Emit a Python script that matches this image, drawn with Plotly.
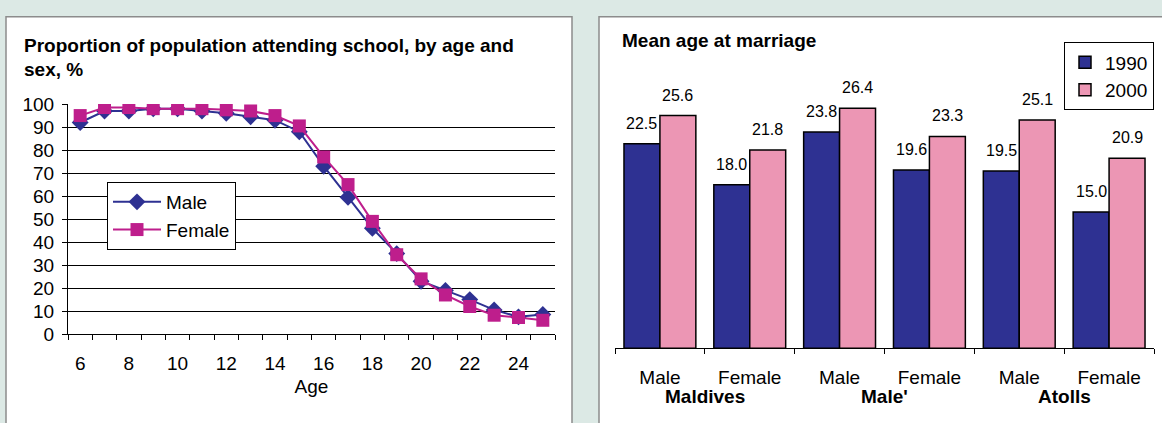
import plotly.graph_objects as go

# left chart: school attendance
ages = list(range(6, 26))
male_pct = [92, 97, 97, 98, 98, 97, 96, 94.5, 93, 88, 73, 59.5, 46, 35, 23, 19, 15, 10.5, 7.5, 8.5]
female_pct = [95, 98.5, 98.5, 98, 98, 98, 97.5, 97, 95, 90.5, 77, 65, 49, 34.5, 24, 17, 12, 8.2, 7.2, 6]
age_ticks = list(range(6, 25, 2))

# right chart: mean age at marriage
groups = ["Maldives", "Male'", "Atolls"]
sexes = ["Male", "Female", "Male", "Female", "Male", "Female"]
age_1990 = [22.5, 18.0, 23.8, 19.6, 19.5, 15.0]
age_2000 = [25.6, 21.8, 26.4, 23.3, 25.1, 20.9]
years = ["1990", "2000"]

W, H = 1162, 423
FONT = "Arial, Liberation Sans, sans-serif"
NAVY = "#2e3192"
MAGENTA = "#be1e8c"
PINK = "#ec96b4"
BG = "#dce9e5"


def px_x(p):
    return p / W


def px_y(p):
    return 1 - p / H


fig = go.Figure()

fig.add_trace(go.Scatter(
    x=ages, y=male_pct, name="Male", mode="lines+markers",
    line=dict(color=NAVY, width=2), marker=dict(symbol="diamond", size=13, color=NAVY),
    xaxis="x", yaxis="y", legend="legend",
))
fig.add_trace(go.Scatter(
    x=ages, y=female_pct, name="Female", mode="lines+markers",
    line=dict(color=MAGENTA, width=2), marker=dict(symbol="square", size=13, color=MAGENTA),
    xaxis="x", yaxis="y", legend="legend",
))

idx = list(range(len(sexes)))
for vals, color, yr in [(age_1990, NAVY, years[0]), (age_2000, PINK, years[1])]:
    fig.add_trace(go.Bar(
        x=idx, y=vals, name=yr, marker=dict(color=color, line=dict(color="black", width=1.5)),
        xaxis="x2", yaxis="y2", legend="legend2",
    ))

annotations = []
# value labels above the bars
bar_half = 0.2
for vals, sign in [(age_1990, -1), (age_2000, 1)]:
    for i, v in enumerate(vals):
        annotations.append(dict(
            xref="x2", yref="y2", x=i + sign * bar_half, y=v, yanchor="bottom", yshift=10,
            text="{:.1f}".format(v), showarrow=False, font=dict(family=FONT, size=16, color="black"),
        ))
# group labels
for g, name in enumerate(groups):
    annotations.append(dict(
        xref="x2", yref="paper", x=2 * g + 0.5, y=px_y(407), yanchor="middle",
        text="<b>" + name + "</b>", showarrow=False, font=dict(family=FONT, size=19, color="black"),
    ))
# titles
annotations += [
    dict(xref="paper", yref="paper", x=px_x(22), y=px_y(37), xanchor="left", yanchor="middle",
         text="<b>Proportion of population attending school, by age and</b>", showarrow=False,
         font=dict(family=FONT, size=19, color="black")),
    dict(xref="paper", yref="paper", x=px_x(22), y=px_y(63), xanchor="left", yanchor="middle",
         text="<b>sex, %</b>", showarrow=False, font=dict(family=FONT, size=19, color="black")),
    dict(xref="paper", yref="paper", x=px_x(620), y=px_y(32), xanchor="left", yanchor="middle",
         text="<b>Mean age at marriage</b>", showarrow=False, font=dict(family=FONT, size=19, color="black")),
]

shapes = [
    dict(type="rect", xref="paper", yref="paper", x0=px_x(6), x1=px_x(572), y0=-0.2, y1=px_y(7),
         fillcolor="white", line=dict(color="#8c8c8c", width=1.5), layer="below"),
    dict(type="rect", xref="paper", yref="paper", x0=px_x(599), x1=1.1, y0=-0.2, y1=px_y(7),
         fillcolor="white", line=dict(color="#8c8c8c", width=1.5), layer="below"),
]

tick_font = dict(family=FONT, size=19, color="black")

fig.update_layout(
    width=W, height=H, margin=dict(l=0, r=0, t=0, b=0),
    paper_bgcolor=BG, plot_bgcolor="rgba(0,0,0,0)",
    barmode="group", bargap=0.2, bargroupgap=0,
    annotations=annotations, shapes=shapes,
    xaxis=dict(
        domain=[px_x(68), px_x(555)], range=[5.5, 25.5], tickmode="array", tickvals=age_ticks,
        ticks="", tickfont=tick_font, ticklabelstandoff=12, showgrid=False, zeroline=False,
        showline=True, linecolor="black", linewidth=1, anchor="y",
        minor=dict(tickmode="linear", tick0=5.5, dtick=1, ticks="outside", ticklen=5,
                   tickcolor="black", showgrid=False),
        title=dict(text="Age", font=dict(family=FONT, size=19, color="black"), standoff=6),
    ),
    yaxis=dict(
        domain=[px_y(341), px_y(99)], range=[0, 100], dtick=10, tickfont=tick_font,
        ticks="outside", ticklen=5, tickcolor="black", ticklabelstandoff=4, anchor="x",
        showgrid=True, gridcolor="black", gridwidth=1, zeroline=False,
        showline=True, linecolor="black", linewidth=1,
    ),
    xaxis2=dict(
        domain=[px_x(615), px_x(1154)], range=[-0.5, 5.5], tickmode="array", tickvals=idx,
        ticktext=sexes, ticks="", tickfont=tick_font, anchor="y2",
        ticklabelstandoff=12, showgrid=False, zeroline=False,
        showline=True, linecolor="black", linewidth=1,
        minor=dict(tickmode="linear", tick0=-0.5, dtick=1, ticks="outside", ticklen=5,
                   tickcolor="black", showgrid=False),
    ),
    yaxis2=dict(
        domain=[px_y(356), px_y(69)], range=[0, 30], visible=False, anchor="x2",
    ),
    legend=dict(
        x=px_x(107), y=px_y(181), xanchor="left", yanchor="top",
        bgcolor="white", bordercolor="black", borderwidth=1, itemwidth=48,
        font=dict(family=FONT, size=19, color="black"),
    ),
    legend2=dict(
        x=px_x(1154), y=px_y(34), xanchor="right", yanchor="top",
        bgcolor="white", bordercolor="black", borderwidth=1, itemwidth=30,
        font=dict(family=FONT, size=19, color="black"),
    ),
)

# the page body has a default 8px margin; drop it so paper coordinates match the window
fig.write_html(
    "out.html",
    config={"displayModeBar": False},
    post_script="document.body.style.margin='0px';",
)
